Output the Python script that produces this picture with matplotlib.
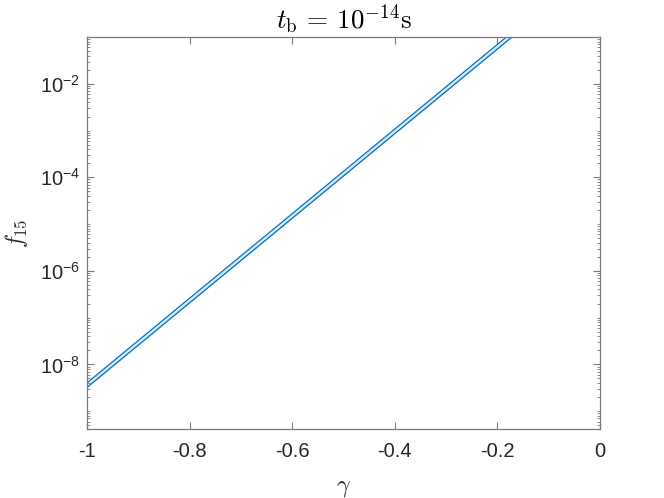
# f_15 vs gamma band, t_b = 1e-14 s

import numpy as np
import matplotlib.pyplot as plt
from matplotlib.ticker import LogLocator, FixedLocator, NullFormatter

plt.rcParams["font.family"] = "Liberation Sans"
plt.rcParams["mathtext.fontset"] = "cm"

# values
gamma = [-1.0, -0.8, -0.6, -0.4, -0.2, -0.15]
f_low = [3.21e-9, 2.07e-7, 1.33e-5, 8.59e-4, 5.54e-2, 0.157]
f_high = [4.03e-9, 2.60e-7, 1.67e-5, 1.08e-3, 6.96e-2, 0.197]

x_ticks = [-1, -0.8, -0.6, -0.4, -0.2, 0]
x_labels = ["-1", "-0.8", "-0.6", "-0.4", "-0.2", "0"]
y_ticks = [1e-8, 1e-6, 1e-4, 1e-2]
y_labels = [r"$\mathregular{10^{-8}}$", r"$\mathregular{10^{-6}}$",
            r"$\mathregular{10^{-4}}$", r"$\mathregular{10^{-2}}$"]

fig = plt.figure(figsize=(6.64, 4.98), dpi=100)
ax = fig.add_axes([0.131, 0.138, 0.7726, 0.7876])

ax.fill_between(gamma, f_low, f_high, color='#d6e7f5', lw=0)
ax.plot(gamma, f_low, color='#0072BD', lw=0.9)
ax.plot(gamma, f_high, color='#0072BD', lw=0.9)

ax.set_yscale('log')
ax.set_xlim(-1, 0)
ax.set_ylim(4.1e-10, 1e-1)

ax.set_xticks(x_ticks)
ax.set_xticklabels(x_labels)
ax.yaxis.set_major_locator(FixedLocator(y_ticks))
ax.set_yticklabels(y_labels)
ax.yaxis.set_minor_locator(LogLocator(base=10, subs=np.arange(1, 10), numticks=30))
ax.yaxis.set_minor_formatter(NullFormatter())

edge = '#7a7a7a'
for s in ax.spines.values():
    s.set_color(edge)
    s.set_linewidth(0.9)

ax.tick_params(axis='both', which='both', direction='in', top=True, right=True,
               color=edge, labelcolor='#262626', labelsize=14.5)
ax.tick_params(axis='both', which='major', length=5, width=0.8)
ax.tick_params(axis='y', which='minor', length=2.5, width=0.6)
ax.tick_params(axis='x', which='major', pad=9)
ax.tick_params(axis='y', which='major', pad=5)

ax.set_title(r"$t_{\mathrm{b}} \,=\, 10^{-14}\mathrm{s}$", fontsize=19.5, color='black', pad=6)
ax.set_xlabel(r"$\gamma$", fontsize=17, color='#262626', labelpad=12)
ax.set_ylabel(r"$f_{15}$", fontsize=17, color='#262626', labelpad=7)

fig.savefig("out.png", dpi=100)
